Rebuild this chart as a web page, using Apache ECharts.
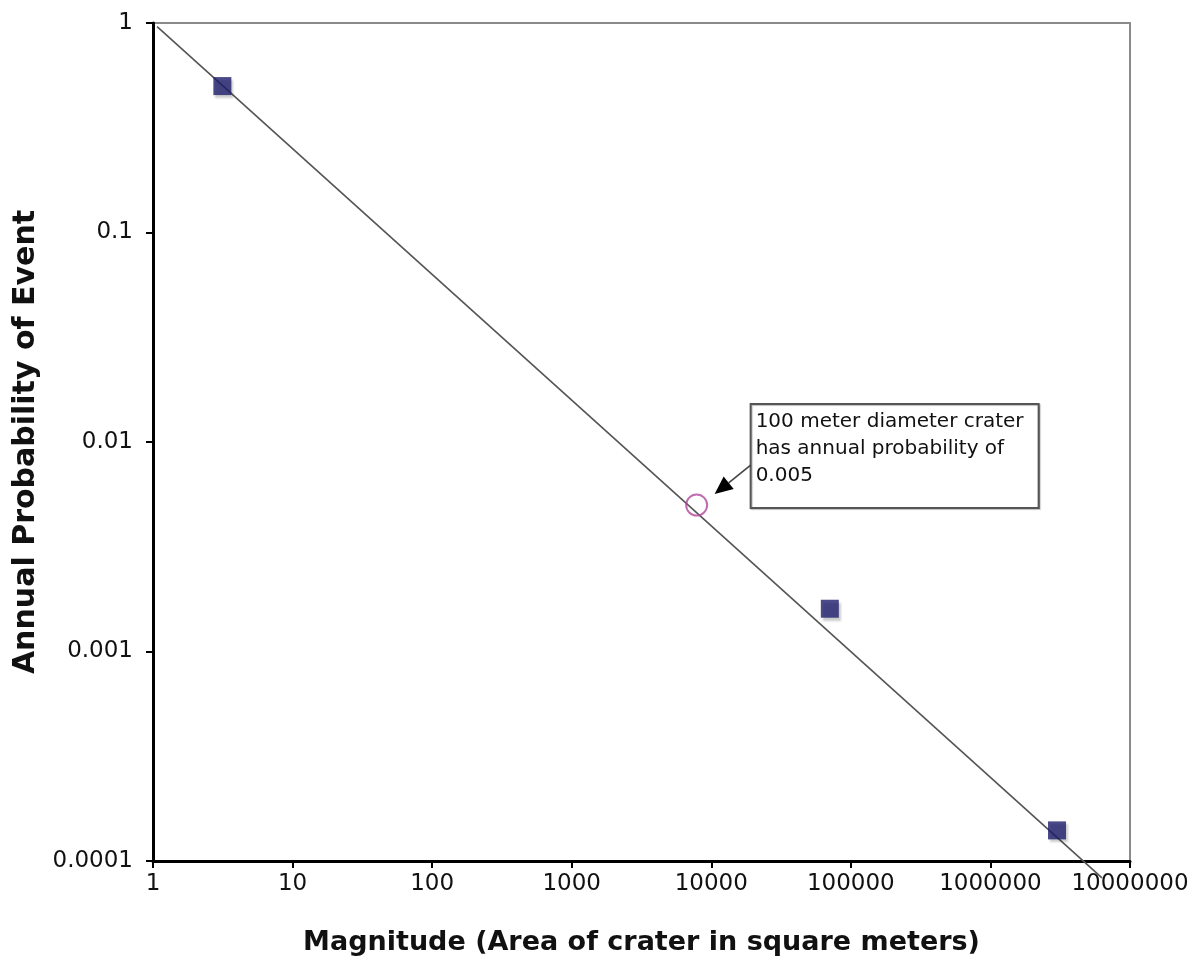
<!DOCTYPE html>
<html>
<head>
<meta charset="utf-8">
<script src="https://cdn.jsdelivr.net/npm/echarts@6/dist/echarts.min.js"></script>
<style>
html,body{margin:0;padding:0;background:#fff;}
#chart{width:1193px;height:971px;}
</style>
</head>
<body>
<div id="chart"></div>
<script>
// Data
const craterArea = [3.14, 70686, 3000000];          // square metres
const annualProb = [0.5, 0.0016, 0.00014];
const highlightArea = [7854];                        // 100 m diameter crater
const highlightProb = [0.005];
const trendArea = [1.07, 6300000];
const trendProb = [0.96, 0.000083];
const xTickLabels = ['1', '10', '100', '1000', '10000', '100000', '1000000', '10000000'];
const yTickLabels = ['0.0001', '0.001', '0.01', '0.1', '1'];
const noteLines = ['100 meter diameter crater', 'has annual probability of', '0.005'];
const xTitle = 'Magnitude (Area of crater in square meters)';
const yTitle = 'Annual Probability of Event';

const chart = echarts.init(document.getElementById('chart'), null, {renderer: 'canvas'});

function pick(labels, v, minExp) {
  const i = Math.round(Math.log10(v)) - minExp;
  return labels[i] !== undefined ? labels[i] : '';
}

const zip = (a, b) => a.map((v, i) => [v, b[i]]);

const option = {
  animation: false,
  backgroundColor: '#ffffff',
  grid: {
    left: 153, top: 23, right: 63, bottom: 110,
    show: true, borderColor: '#8a8a8a', borderWidth: 2, backgroundColor: 'transparent'
  },
  xAxis: {
    type: 'log', logBase: 10, min: 1, max: 10000000,
    name: xTitle, nameLocation: 'middle', nameGap: 68,
    nameTextStyle: {fontFamily: 'DejaVu Sans', fontWeight: 'bold', fontSize: 27, color: '#111'},
    axisLine: {show: true, lineStyle: {color: '#000', width: 3}},
    axisTick: {show: true, length: 7, lineStyle: {color: '#000', width: 2}},
    minorTick: {show: false},
    splitLine: {show: false},
    axisLabel: {
      fontFamily: 'DejaVu Sans', fontSize: 23, color: '#111', margin: 12,
      showMinLabel: true, showMaxLabel: true,
      formatter: v => pick(xTickLabels, v, 0)
    }
  },
  yAxis: {
    type: 'log', logBase: 10, min: 0.0001, max: 1,
    name: yTitle, nameLocation: 'middle', nameGap: 98, nameRotate: 90,
    nameTextStyle: {fontFamily: 'DejaVu Sans', fontWeight: 'bold', fontSize: 30, color: '#111'},
    axisLine: {show: true, lineStyle: {color: '#000', width: 3}},
    axisTick: {show: true, length: 7, lineStyle: {color: '#000', width: 2}},
    splitLine: {show: false},
    axisLabel: {
      fontFamily: 'DejaVu Sans', fontSize: 23, color: '#111', margin: 20,
      showMinLabel: true, showMaxLabel: true,
      formatter: v => pick(yTickLabels, v, -4)
    }
  },
  series: [
    {
      type: 'line', data: zip(trendArea, trendProb), symbol: 'none', clip: false,
      lineStyle: {color: '#555555', width: 1.6}, z: 2, silent: true
    },
    {
      type: 'scatter', data: zip(craterArea, annualProb), symbol: 'rect', symbolSize: 18,
      itemStyle: {color: '#1f1e6b', shadowColor: 'rgba(0,0,0,0.25)', shadowBlur: 2, shadowOffsetX: 2, shadowOffsetY: 3},
      z: 3
    },
    {
      type: 'scatter', data: zip(highlightArea, highlightProb), symbol: 'circle', symbolSize: 21,
      itemStyle: {color: 'rgba(255,255,255,0)', borderColor: '#b0479d', borderWidth: 2},
      z: 4
    }
  ]
};
chart.setOption(option);

// Annotation anchored to the highlighted point
const p = chart.convertToPixel({gridIndex: 0}, [highlightArea[0], highlightProb[0]]);
const bx = p[0] + 54, by = p[1] - 101, bw = 288, bh = 104;
const tail = [bx, p[1] - 40], tip = [p[0] + 18, p[1] - 11];
const ang = Math.atan2(tip[1] - tail[1], tip[0] - tail[0]);
const hl = 18, hw = 8;
const baseX = tip[0] - hl * Math.cos(ang), baseY = tip[1] - hl * Math.sin(ang);
chart.setOption({
  graphic: [
    {type: 'rect', shape: {x: bx, y: by, width: bw, height: bh}, style: {fill: '#fff', stroke: '#555', lineWidth: 2, shadowColor: 'rgba(0,0,0,0.25)', shadowOffsetX: 1, shadowOffsetY: 1, shadowBlur: 1}, z: 10},
    {type: 'text', x: bx + 5, y: by + 4, style: {text: noteLines.join('\n'), font: '20px "DejaVu Sans"', fill: '#111', lineHeight: 27}, z: 11},
    {type: 'line', shape: {x1: tail[0], y1: tail[1], x2: baseX, y2: baseY}, style: {stroke: '#444', lineWidth: 1.6}, z: 10},
    {type: 'polygon', shape: {points: [tip,
      [baseX + hw * Math.sin(ang), baseY - hw * Math.cos(ang)],
      [baseX - hw * Math.sin(ang), baseY + hw * Math.cos(ang)]]}, style: {fill: '#000'}, z: 10}
  ]
});
</script>
</body>
</html>
